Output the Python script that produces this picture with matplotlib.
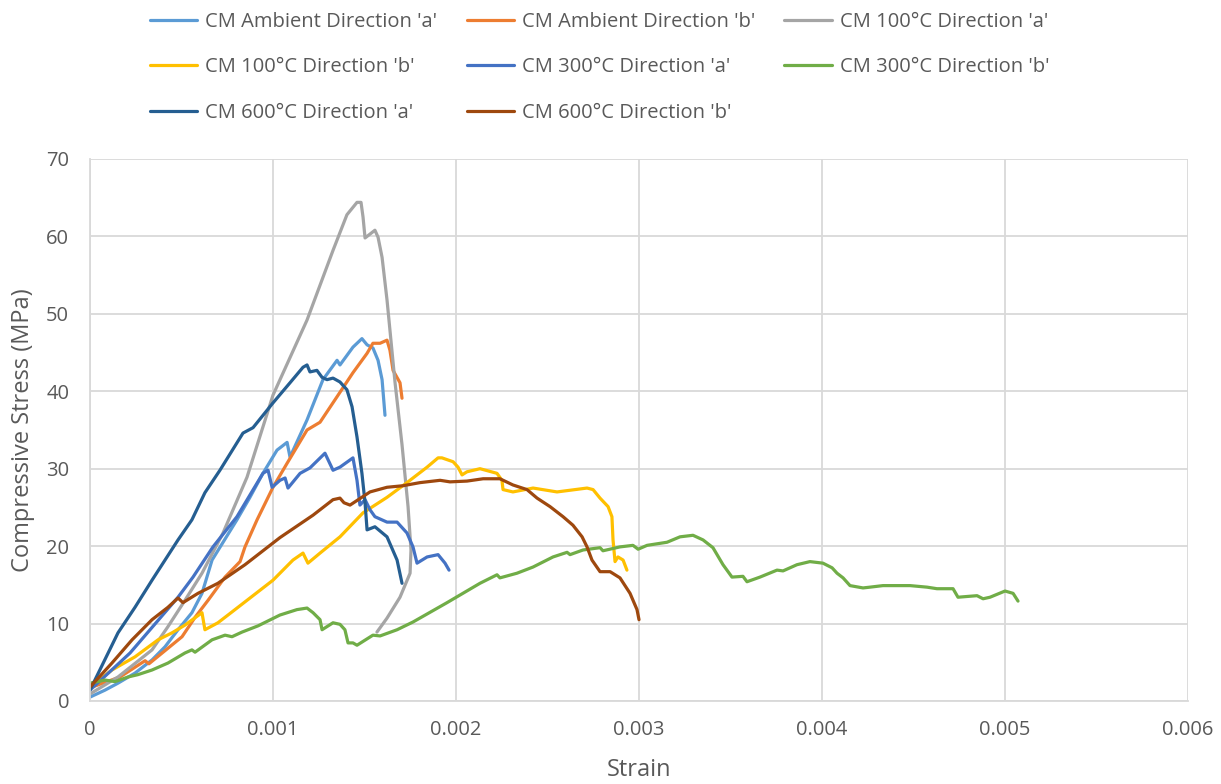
import matplotlib
matplotlib.use("Agg")
import matplotlib.pyplot as plt
from matplotlib.ticker import MultipleLocator, FormatStrFormatter

# strain / stress pairs per specimen series
amb_a_strain = [0, 0.000082, 0.000153, 0.000246, 0.000339, 0.00041, 0.000481, 0.000557, 0.000612,
                0.000667, 0.000803, 0.000874, 0.000945, 0.001022, 0.001077, 0.001093, 0.001186,
                0.001273, 0.00135, 0.001366, 0.001437, 0.001486, 0.001514, 0.001546, 0.001574,
                0.001596, 0.001612]
amb_a_stress = [0.5, 1.4, 2.3, 3.6, 5.3, 7.0, 9.2, 11.4, 13.9, 18.2, 23.4, 26.3, 29.4, 32.4, 33.4,
                31.5, 36.3, 41.5, 44.0, 43.4, 45.7, 46.8, 46.0, 45.6, 44.0, 41.5, 36.9]

amb_b_strain = [0, 0.000164, 0.000301, 0.000322, 0.00041, 0.000503, 0.000574, 0.000645, 0.000738,
                0.00082, 0.000847, 0.000913, 0.001, 0.001077, 0.001186, 0.001257, 0.00135,
                0.001437, 0.001514, 0.001546, 0.001585, 0.001623, 0.001639, 0.001656, 0.001694,
                0.001705]
amb_b_stress = [1.7, 3.1, 5.2, 4.8, 6.5, 8.3, 10.8, 13.0, 16.0, 18.0, 19.9, 23.4, 27.6, 30.7, 35.0,
                36.0, 39.3, 42.4, 44.9, 46.2, 46.2, 46.6, 45.3, 42.7, 41.1, 39.1]

c100_a_strain = [0, 0.000153, 0.000339, 0.000426, 0.000519, 0.000612, 0.000727, 0.000858, 0.001,
                 0.001186, 0.001328, 0.001404, 0.001459, 0.001481, 0.001492, 0.001503, 0.001557,
                 0.001574, 0.001596, 0.001623, 0.001667, 0.001705, 0.001738, 0.001754, 0.001749,
                 0.001694, 0.001623, 0.001568]
c100_a_stress = [0.9, 3.1, 6.6, 9.6, 13.0, 16.5, 21.7, 28.9, 39.5, 49.2, 58.2, 62.8, 64.4, 64.4,
                 62.5, 59.8, 60.8, 59.9, 57.3, 51.8, 41.1, 33.1, 25.1, 19.5, 16.5, 13.4, 10.7, 8.9]

c100_b_strain = [0, 0.00012, 0.000246, 0.000372, 0.000448, 0.000519, 0.000612, 0.000628, 0.000699,
                 0.000776, 0.000847, 0.001, 0.001109, 0.001164, 0.001191, 0.001257, 0.001366,
                 0.001492, 0.001623, 0.001732, 0.001842, 0.001902, 0.001923, 0.001984, 0.002011,
                 0.002033, 0.00206, 0.002131, 0.002224, 0.002251, 0.002257, 0.002311, 0.002421,
                 0.002552, 0.002716, 0.002749, 0.002787, 0.002831, 0.002852, 0.002858, 0.002869,
                 0.002885, 0.002913, 0.002934]
c100_b_stress = [1.8, 4.0, 5.7, 7.9, 8.8, 9.8, 11.4, 9.2, 10.1, 11.5, 12.8, 15.6, 18.2, 19.1, 17.8,
                 19.1, 21.2, 24.3, 26.3, 28.2, 30.2, 31.4, 31.4, 30.9, 30.2, 29.2, 29.6, 30.0, 29.4,
                 28.5, 27.3, 27.0, 27.5, 27.0, 27.5, 27.3, 26.2, 25.1, 23.8, 20.8, 18.0, 18.6,
                 18.2, 16.9]

c300_a_strain = [0, 0.000219, 0.000481, 0.000563, 0.000672, 0.000803, 0.000945, 0.000973, 0.000995,
                 0.001038, 0.001066, 0.001082, 0.001148, 0.001202, 0.001284, 0.001328, 0.001366,
                 0.001437, 0.001459, 0.001475, 0.001503, 0.00153, 0.001557, 0.001623, 0.001678,
                 0.001732, 0.001765, 0.001787, 0.001842, 0.001902, 0.00194, 0.001962]
c300_a_stress = [1.4, 6.2, 13.4, 16.0, 19.9, 23.8, 29.4, 29.8, 27.6, 28.5, 28.8, 27.5, 29.4, 30.1,
                 32.0, 29.8, 30.2, 31.4, 28.5, 25.3, 26.0, 24.7, 23.8, 23.1, 23.1, 21.7, 19.9,
                 17.8, 18.6, 18.9, 17.8, 16.9]

c300_b_strain = [0, 0.000082, 0.000137, 0.000208, 0.000262, 0.000339, 0.000426, 0.000519, 0.000557,
                 0.000574, 0.000667, 0.000738, 0.000776, 0.000831, 0.000918, 0.001038, 0.001131,
                 0.001186, 0.001219, 0.001257, 0.001268, 0.001328, 0.001366, 0.001393, 0.00141,
                 0.001437, 0.001459, 0.001546, 0.001585, 0.001678, 0.001765, 0.001951, 0.002131,
                 0.002224, 0.00224, 0.002333, 0.002421, 0.00253, 0.002607, 0.002623, 0.002694,
                 0.002787, 0.002803, 0.002896, 0.002967, 0.002995, 0.003044, 0.003153, 0.003224,
                 0.003295, 0.00335, 0.003404, 0.003459, 0.003508, 0.003568, 0.00359, 0.003661,
                 0.003754, 0.003787, 0.003863, 0.003934, 0.004005, 0.004055, 0.004082, 0.004115,
                 0.004153, 0.004224, 0.004262, 0.004333, 0.004481, 0.004574, 0.004628, 0.004716,
                 0.004743, 0.004847, 0.00488, 0.004918, 0.005, 0.005044, 0.005071]
c300_b_stress = [2.3, 2.7, 2.5, 3.1, 3.4, 4.0, 4.9, 6.2, 6.6, 6.3, 7.9, 8.5, 8.3, 8.9, 9.7, 11.1,
                 11.8, 12.0, 11.4, 10.5, 9.2, 10.1, 9.9, 9.2, 7.5, 7.5, 7.2, 8.5, 8.4, 9.2, 10.2,
                 12.7, 15.2, 16.3, 15.9, 16.5, 17.3, 18.6, 19.2, 18.9, 19.5, 19.8, 19.4, 19.9,
                 20.1, 19.6, 20.1, 20.5, 21.2, 21.4, 20.8, 19.8, 17.6, 16.0, 16.1, 15.4, 16.0,
                 16.9, 16.8, 17.6, 18.0, 17.8, 17.2, 16.5, 15.9, 14.9, 14.6, 14.7, 14.9, 14.9,
                 14.7, 14.5, 14.5, 13.4, 13.6, 13.2, 13.4, 14.2, 13.9, 12.9]

c600_a_strain = [0, 0.000153, 0.000246, 0.000339, 0.00041, 0.000481, 0.000557, 0.000628, 0.00071,
                 0.000836, 0.000891, 0.001, 0.001093, 0.001164, 0.001186, 0.001202, 0.00124,
                 0.001268, 0.001295, 0.001328, 0.001366, 0.001404, 0.001432, 0.001459, 0.001486,
                 0.001503, 0.001514, 0.001557, 0.001623, 0.001678, 0.001705]
c600_a_stress = [1.4, 8.8, 12.1, 15.6, 18.2, 20.8, 23.4, 26.9, 29.8, 34.6, 35.3, 38.5, 41.1, 43.1,
                 43.4, 42.5, 42.7, 41.8, 41.5, 41.7, 41.2, 40.2, 38.0, 34.1, 29.4, 25.6, 22.1,
                 22.5, 21.2, 18.2, 15.2]

c600_b_strain = [0, 0.00012, 0.00023, 0.000339, 0.000426, 0.000481, 0.000508, 0.00059, 0.000699,
                 0.000847, 0.001038, 0.001219, 0.001328, 0.001366, 0.001388, 0.001421, 0.00153,
                 0.001623, 0.00171, 0.001803, 0.001913, 0.001967, 0.00206, 0.002148, 0.00224,
                 0.002311, 0.002388, 0.002443, 0.002514, 0.002585, 0.002639, 0.002689, 0.002716,
                 0.002743, 0.002787, 0.002842, 0.002896, 0.002951, 0.002989, 0.003]
c600_b_stress = [1.8, 4.9, 7.9, 10.5, 12.1, 13.3, 12.7, 13.9, 15.2, 17.6, 21.1, 24.0, 26.0, 26.2,
                 25.6, 25.3, 27.0, 27.6, 27.8, 28.2, 28.5, 28.3, 28.4, 28.7, 28.7, 27.9, 27.3,
                 26.2, 25.1, 23.8, 22.7, 21.2, 19.9, 18.2, 16.7, 16.7, 15.9, 13.9, 11.8, 10.5]

series = [
    ("CM Ambient Direction 'a'", amb_a_strain, amb_a_stress, "#5B9BD5"),
    ("CM Ambient Direction 'b'", amb_b_strain, amb_b_stress, "#ED7D31"),
    ("CM 100°C Direction 'a'", c100_a_strain, c100_a_stress, "#A5A5A5"),
    ("CM 100°C Direction 'b'", c100_b_strain, c100_b_stress, "#FFC000"),
    ("CM 300°C Direction 'a'", c300_a_strain, c300_a_stress, "#4472C4"),
    ("CM 300°C Direction 'b'", c300_b_strain, c300_b_stress, "#70AD47"),
    ("CM 600°C Direction 'a'", c600_a_strain, c600_a_stress, "#255E91"),
    ("CM 600°C Direction 'b'", c600_b_strain, c600_b_stress, "#9E480E"),
]

plt.rcParams["font.family"] = ["Open Sans", "DejaVu Sans"]
text_color = "#595959"
grid_color = "#D9D9D9"

fig = plt.figure(figsize=(12.21, 7.84), dpi=100)
ax = fig.add_axes([0.0737, 0.1059, 0.8993, 0.6913])

handles = {}
for label, xs, ys, color in series:
    (line,) = ax.plot(xs, ys, color=color, lw=2.3, solid_joinstyle="round",
                      solid_capstyle="round", label=label)
    handles[label] = line

ax.set_xlim(0, 0.006)
ax.set_ylim(0, 70)
ax.xaxis.set_major_locator(MultipleLocator(0.001))
ax.yaxis.set_major_locator(MultipleLocator(10))
ax.xaxis.set_major_formatter(FormatStrFormatter("%g"))
ax.grid(True, color=grid_color, lw=1.3)
ax.set_axisbelow(True)
for side in ["top", "right"]:
    ax.spines[side].set_visible(False)
for side in ["left", "bottom"]:
    ax.spines[side].set_color(grid_color)
    ax.spines[side].set_linewidth(1.3)
ax.tick_params(axis="x", length=0, labelsize=14.5, labelcolor=text_color, pad=14)
ax.tick_params(axis="y", length=0, labelsize=14.5, labelcolor=text_color, pad=15)

ax.set_xlabel("Strain", fontsize=17, color=text_color, labelpad=13)
ax.set_ylabel("Compressive Stress (MPa)", fontsize=17, color=text_color, labelpad=8)

# legend is filled column-wise, so reorder to read row by row
order = [0, 3, 6, 1, 4, 7, 2, 5]
labels = [series[i][0] for i in order]
fig.legend([handles[l] for l in labels], labels, ncol=3, loc="upper left",
           bbox_to_anchor=(0.108, 1.008), frameon=False, fontsize=14.5,
           labelcolor=text_color, handlelength=2.35, handletextpad=0.4,
           columnspacing=1.45, labelspacing=1.27)

fig.savefig("out.png", dpi=100, facecolor="white")
